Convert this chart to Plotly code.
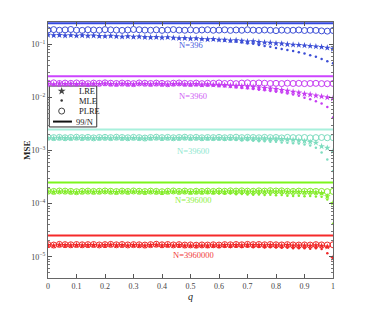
import math
import plotly.graph_objects as go

q = [0.00,0.02,0.04,0.06,0.08,0.10,0.12,0.14,0.16,0.18,
     0.20,0.22,0.24,0.26,0.28,0.30,0.32,0.34,0.36,0.38,
     0.40,0.42,0.44,0.46,0.48,0.50,0.52,0.54,0.56,0.58,
     0.60,0.62,0.64,0.66,0.68,0.70,0.72,0.74,0.76,0.78,
     0.80,0.82,0.84,0.86,0.88,0.90,0.92,0.94,0.96,0.98,1.00]

N_values = [396, 3960, 39600, 396000, 3960000]
bound_99N = [0.25, 0.025, 0.0025, 0.00025, 0.000025]
labels = ["N=396", "N=3960", "N=39600", "N=396000", "N=3960000"]
label_q = [0.50, 0.51, 0.51, 0.51, 0.51]
label_mse = [0.0955, 0.0105, 0.00100, 0.000115, 0.0000110]

legend_names = ["LRE", "MLE", "PLRE", "99/N"]

plre_396 = [0.186,0.189,0.184,0.187,0.190,0.185,0.183,0.188,0.186,0.184,
            0.189,0.187,0.185,0.183,0.186,0.190,0.188,0.185,0.184,0.187,
            0.183,0.186,0.189,0.185,0.184,0.187,0.183,0.186,0.188,0.184,
            0.185,0.187,0.183,0.186,0.184,0.188,0.185,0.183,0.186,0.184,
            0.181,0.185,0.183,0.184,0.186,0.182,0.184,0.183,0.179,0.177,0.182]
lre_396 = [0.150,0.147,0.149,0.146,0.148,0.145,0.147,0.144,0.146,0.143,
           0.142,0.144,0.141,0.139,0.141,0.138,0.140,0.137,0.135,0.137,
           0.134,0.136,0.132,0.130,0.131,0.128,0.129,0.126,0.124,0.125,
           0.122,0.121,0.118,0.119,0.116,0.113,0.114,0.110,0.108,0.107,
           0.104,0.103,0.100,0.098,0.097,0.095,0.093,0.091,0.089,0.086,0.082]
mle_396 = [0.148,0.146,0.148,0.145,0.147,0.144,0.146,0.143,0.145,0.142,
           0.141,0.143,0.140,0.138,0.140,0.137,0.139,0.136,0.134,0.136,
           0.133,0.135,0.131,0.129,0.130,0.127,0.127,0.124,0.122,0.122,
           0.119,0.117,0.113,0.112,0.108,0.104,0.102,0.097,0.093,0.090,
           0.085,0.082,0.078,0.075,0.071,0.067,0.062,0.058,0.053,0.048,0.044]

plre_3960 = [0.0185,0.0188,0.0183,0.0186,0.0184,0.0187,0.0185,0.0182,0.0186,0.0184,
             0.0188,0.0185,0.0183,0.0186,0.0184,0.0182,0.0187,0.0185,0.0183,0.0186,
             0.0184,0.0181,0.0185,0.0187,0.0184,0.0183,0.0186,0.0182,0.0185,0.0184,
             0.0187,0.0183,0.0185,0.0182,0.0186,0.0188,0.0184,0.0187,0.0185,0.0183,
             0.0184,0.0182,0.0185,0.0183,0.0184,0.0182,0.0183,0.0184,0.0182,0.0181,0.0183]
lre_3960 = [0.0180,0.0177,0.0182,0.0179,0.0181,0.0178,0.0180,0.0176,0.0181,0.0179,
            0.0182,0.0178,0.0177,0.0180,0.0178,0.0176,0.0181,0.0179,0.0177,0.0180,
            0.0178,0.0175,0.0179,0.0181,0.0177,0.0176,0.0178,0.0174,0.0176,0.0173,
            0.0172,0.0170,0.0167,0.0165,0.0163,0.0160,0.0158,0.0154,0.0150,0.0147,
            0.0143,0.0138,0.0133,0.0128,0.0123,0.0117,0.0113,0.0108,0.0104,0.0100,0.0096]
mle_3960 = [0.0178,0.0176,0.0180,0.0178,0.0180,0.0177,0.0179,0.0175,0.0180,0.0178,
            0.0180,0.0177,0.0176,0.0179,0.0177,0.0175,0.0180,0.0178,0.0176,0.0178,
            0.0176,0.0173,0.0176,0.0177,0.0173,0.0171,0.0172,0.0167,0.0167,0.0165,
            0.0163,0.0160,0.0157,0.0154,0.0150,0.0147,0.0144,0.0140,0.0136,0.0132,
            0.0128,0.0124,0.0119,0.0114,0.0107,0.0099,0.0092,0.0085,0.0077,0.0066,0.0042]

plre_39600 = [0.00178,0.00175,0.00177,0.00174,0.00176,0.00178,0.00175,0.00177,0.00173,0.00176,
              0.00177,0.00175,0.00178,0.00176,0.00174,0.00177,0.00175,0.00172,0.00176,0.00178,
              0.00175,0.00177,0.00174,0.00176,0.00178,0.00175,0.00177,0.00174,0.00176,0.00175,
              0.00177,0.00174,0.00176,0.00178,0.00175,0.00177,0.00176,0.00174,0.00177,0.00175,
              0.00176,0.00173,0.00177,0.00175,0.00174,0.00176,0.00173,0.00175,0.00176,0.00174,0.00175]
lre_39600 = [0.00172,0.00170,0.00173,0.00171,0.00170,0.00173,0.00171,0.00172,0.00169,0.00171,
             0.00172,0.00170,0.00173,0.00171,0.00169,0.00172,0.00170,0.00168,0.00171,0.00173,
             0.00170,0.00172,0.00169,0.00171,0.00173,0.00170,0.00172,0.00169,0.00171,0.00170,
             0.00171,0.00169,0.00172,0.00170,0.00168,0.00171,0.00169,0.00167,0.00169,0.00166,
             0.00167,0.00164,0.00162,0.00159,0.00155,0.00150,0.00145,0.00140,0.00120,0.00112,0.00097]
mle_39600 = [0.00170,0.00168,0.00171,0.00169,0.00168,0.00171,0.00169,0.00170,0.00167,0.00169,
             0.00170,0.00168,0.00171,0.00169,0.00167,0.00170,0.00168,0.00166,0.00169,0.00171,
             0.00168,0.00170,0.00167,0.00168,0.00170,0.00166,0.00168,0.00164,0.00165,0.00163,
             0.00163,0.00160,0.00161,0.00158,0.00155,0.00156,0.00152,0.00149,0.00150,0.00146,
             0.00146,0.00142,0.00140,0.00137,0.00135,0.00130,0.00124,0.00113,0.00092,0.00068,0.00041]

plre_396000 = [1.72e-4,1.70e-4,1.73e-4,1.72e-4,1.70e-4,1.68e-4,1.71e-4,1.72e-4,1.70e-4,1.71e-4,
               1.73e-4,1.71e-4,1.69e-4,1.72e-4,1.70e-4,1.73e-4,1.71e-4,1.69e-4,1.72e-4,1.70e-4,
               1.68e-4,1.71e-4,1.73e-4,1.70e-4,1.72e-4,1.69e-4,1.71e-4,1.70e-4,1.72e-4,1.70e-4,
               1.73e-4,1.71e-4,1.74e-4,1.72e-4,1.74e-4,1.72e-4,1.71e-4,1.74e-4,1.72e-4,1.75e-4,
               1.73e-4,1.74e-4,1.71e-4,1.70e-4,1.72e-4,1.70e-4,1.71e-4,1.70e-4,1.70e-4,1.68e-4,1.70e-4]
lre_396000 = [1.68e-4,1.66e-4,1.69e-4,1.68e-4,1.66e-4,1.64e-4,1.67e-4,1.68e-4,1.66e-4,1.67e-4,
              1.69e-4,1.67e-4,1.65e-4,1.68e-4,1.66e-4,1.69e-4,1.67e-4,1.65e-4,1.68e-4,1.66e-4,
              1.64e-4,1.67e-4,1.69e-4,1.66e-4,1.68e-4,1.65e-4,1.67e-4,1.66e-4,1.68e-4,1.66e-4,
              1.69e-4,1.67e-4,1.70e-4,1.68e-4,1.70e-4,1.68e-4,1.67e-4,1.70e-4,1.68e-4,1.71e-4,
              1.69e-4,1.70e-4,1.67e-4,1.66e-4,1.67e-4,1.65e-4,1.65e-4,1.63e-4,1.58e-4,1.37e-4,1.03e-4]
mle_396000 = [1.66e-4,1.64e-4,1.67e-4,1.66e-4,1.64e-4,1.62e-4,1.65e-4,1.66e-4,1.64e-4,1.65e-4,
              1.67e-4,1.65e-4,1.63e-4,1.66e-4,1.64e-4,1.67e-4,1.65e-4,1.63e-4,1.66e-4,1.64e-4,
              1.62e-4,1.64e-4,1.66e-4,1.63e-4,1.64e-4,1.61e-4,1.62e-4,1.60e-4,1.61e-4,1.58e-4,
              1.56e-4,1.53e-4,1.55e-4,1.51e-4,1.52e-4,1.49e-4,1.47e-4,1.49e-4,1.45e-4,1.47e-4,
              1.44e-4,1.45e-4,1.41e-4,1.40e-4,1.41e-4,1.38e-4,1.39e-4,1.37e-4,1.35e-4,1.20e-4,4.2e-5]

plre_3960000 = [1.69e-5,1.66e-5,1.71e-5,1.69e-5,1.68e-5,1.70e-5,1.68e-5,1.69e-5,1.70e-5,1.67e-5,
                1.69e-5,1.71e-5,1.68e-5,1.70e-5,1.67e-5,1.69e-5,1.68e-5,1.66e-5,1.69e-5,1.72e-5,
                1.68e-5,1.70e-5,1.67e-5,1.69e-5,1.66e-5,1.67e-5,1.65e-5,1.67e-5,1.66e-5,1.68e-5,
                1.66e-5,1.69e-5,1.68e-5,1.70e-5,1.68e-5,1.71e-5,1.69e-5,1.70e-5,1.68e-5,1.70e-5,
                1.68e-5,1.67e-5,1.69e-5,1.67e-5,1.66e-5,1.67e-5,1.66e-5,1.69e-5,1.67e-5,1.66e-5,1.68e-5]
lre_3960000 = [1.65e-5,1.62e-5,1.67e-5,1.65e-5,1.64e-5,1.66e-5,1.64e-5,1.65e-5,1.66e-5,1.63e-5,
               1.65e-5,1.67e-5,1.64e-5,1.66e-5,1.63e-5,1.65e-5,1.64e-5,1.62e-5,1.65e-5,1.68e-5,
               1.64e-5,1.66e-5,1.63e-5,1.65e-5,1.62e-5,1.63e-5,1.61e-5,1.63e-5,1.62e-5,1.64e-5,
               1.62e-5,1.65e-5,1.64e-5,1.66e-5,1.64e-5,1.67e-5,1.65e-5,1.66e-5,1.64e-5,1.66e-5,
               1.64e-5,1.63e-5,1.65e-5,1.63e-5,1.62e-5,1.63e-5,1.61e-5,1.64e-5,1.61e-5,1.55e-5,9.5e-6]
mle_3960000 = [1.63e-5,1.60e-5,1.65e-5,1.63e-5,1.62e-5,1.64e-5,1.62e-5,1.63e-5,1.64e-5,1.61e-5,
               1.63e-5,1.65e-5,1.62e-5,1.64e-5,1.61e-5,1.63e-5,1.62e-5,1.60e-5,1.62e-5,1.64e-5,
               1.60e-5,1.62e-5,1.59e-5,1.60e-5,1.57e-5,1.58e-5,1.55e-5,1.57e-5,1.55e-5,1.56e-5,
               1.53e-5,1.55e-5,1.53e-5,1.55e-5,1.52e-5,1.54e-5,1.51e-5,1.53e-5,1.50e-5,1.51e-5,
               1.49e-5,1.47e-5,1.48e-5,1.45e-5,1.44e-5,1.45e-5,1.42e-5,1.44e-5,1.40e-5,1.17e-5,3.3e-6]

plre_all = [plre_396, plre_3960, plre_39600, plre_396000, plre_3960000]
lre_all = [lre_396, lre_3960, lre_39600, lre_396000, lre_3960000]
mle_all = [mle_396, mle_3960, mle_39600, mle_396000, mle_3960000]

marker_colors = ["#3d4fd6", "#c63cf2", "#7ddcbf", "#84ec2a", "#f02828"]
line_colors = ["#3347e0", "#cc44ff", "#a8f0dc", "#7cf51c", "#f52a2a"]
text_colors = ["#4a5ce0", "#d060f5", "#8fe8d0", "#8ef040", "#f03a3a"]

SERIF = "Liberation Serif, Times New Roman, serif"

fig = go.Figure()

for i in range(5):
    fig.add_trace(go.Scatter(
        x=[q[0], q[-1]], y=[bound_99N[i], bound_99N[i]], mode="lines",
        line=dict(color=line_colors[i], width=2), showlegend=False, hoverinfo="skip"))
    fig.add_trace(go.Scatter(
        x=q, y=plre_all[i], mode="markers", showlegend=False,
        marker=dict(symbol="circle-open", size=6, color=marker_colors[i], line=dict(width=1))))
    fig.add_trace(go.Scatter(
        x=q, y=lre_all[i], mode="markers", showlegend=False,
        marker=dict(symbol="star", size=5, color=marker_colors[i], line=dict(width=0))))
    fig.add_trace(go.Scatter(
        x=q, y=mle_all[i], mode="markers", showlegend=False,
        marker=dict(symbol="circle", size=2.5, color=marker_colors[i], line=dict(width=0))))

# hand-drawn legend (Plotly's legend rows are too tall), on an overlay axis 0..1
leg_row_y = [0.730, 0.693, 0.652, 0.611]
key_x = 0.048
fig.add_trace(go.Scatter(x=[key_x], y=[leg_row_y[0]], xaxis="x2", yaxis="y2", mode="markers",
                         showlegend=False, hoverinfo="skip",
                         marker=dict(symbol="star", size=6, color="#444444", line=dict(width=0))))
fig.add_trace(go.Scatter(x=[key_x], y=[leg_row_y[1]], xaxis="x2", yaxis="y2", mode="markers",
                         showlegend=False, hoverinfo="skip",
                         marker=dict(symbol="circle", size=2.5, color="#333333")))
fig.add_trace(go.Scatter(x=[key_x], y=[leg_row_y[2]], xaxis="x2", yaxis="y2", mode="markers",
                         showlegend=False, hoverinfo="skip",
                         marker=dict(symbol="circle-open", size=6, color="#444444", line=dict(width=1))))
fig.add_trace(go.Scatter(x=[0.0175, 0.084], y=[leg_row_y[3], leg_row_y[3]], xaxis="x2", yaxis="y2",
                         mode="lines", showlegend=False, hoverinfo="skip",
                         line=dict(color="#111111", width=2)))
text_x = [0.101, 0.101, 0.101, 0.091]
for j in range(4):
    fig.add_annotation(x=text_x[j], y=leg_row_y[j], xref="x2", yref="y2", text=legend_names[j],
                       showarrow=False, xanchor="left", yanchor="middle",
                       font=dict(family=SERIF, size=8.5, color="#222222"))
fig.add_shape(type="rect", xref="x2", yref="y2", x0=0.0046, x1=0.171, y0=0.590, y1=0.750,
              line=dict(color="#333333", width=1), fillcolor="white", layer="below")

for i in range(5):
    fig.add_annotation(x=label_q[i], y=math.log10(label_mse[i]), text=labels[i],
                       showarrow=False, font=dict(family=SERIF, size=8.5, color=text_colors[i]),
                       xanchor="center", yanchor="middle")

# y-axis title placed as an annotation for precise positioning
fig.add_annotation(x=-0.074, y=0.5, xref="paper", yref="paper", text="<b>MSE</b>",
                   textangle=-90, showarrow=False, xanchor="center", yanchor="middle",
                   font=dict(family=SERIF, size=9, color="#222222"))

decades = [1e-5, 1e-4, 1e-3, 1e-2, 1e-1]
decade_text = ["10<sup>−5</sup>", "10<sup>−4</sup>", "10<sup>−3</sup>", "10<sup>−2</sup>", "10<sup>−1</sup>"]
minor_vals = [m * d for d in [1e-6, 1e-5, 1e-4, 1e-3, 1e-2, 1e-1] for m in range(2, 10)]

fig.update_yaxes(
    type="log", range=[-5.40, -0.58], automargin=False,
    tickvals=decades, ticktext=decade_text,
    ticks="inside", ticklen=4, tickcolor="#555555", tickwidth=1,
    minor=dict(tickvals=minor_vals, ticks="inside", ticklen=2, tickcolor="#777777"),
    showline=True, linecolor="#666666", linewidth=1.2, mirror="allticks",
    showgrid=False, zeroline=False,
    tickfont=dict(family=SERIF, size=8, color="#444444"),
)
fig.update_xaxes(
    range=[0, 1], automargin=False,
    tickvals=[0, 0.1, 0.2, 0.3, 0.4, 0.5, 0.6, 0.7, 0.8, 0.9, 1.0],
    ticktext=["0", "0.1", "0.2", "0.3", "0.4", "0.5", "0.6", "0.7", "0.8", "0.9", "1"],
    ticks="inside", ticklen=4, tickcolor="#555555",
    showline=True, linecolor="#666666", linewidth=1.2, mirror="allticks",
    showgrid=False, zeroline=False,
    tickfont=dict(family=SERIF, size=8, color="#444444"),
    title=dict(text="<i>q</i>", font=dict(family=SERIF, size=10, color="#222222"), standoff=3),
)

fig.update_layout(
    width=352, height=297,
    margin=dict(l=40, r=27, t=14, b=27),
    plot_bgcolor="white", paper_bgcolor="white",
    showlegend=False,
    xaxis2=dict(overlaying="x", range=[0, 1], visible=False, anchor="y2", automargin=False),
    yaxis2=dict(overlaying="y", range=[0, 1], visible=False, anchor="x2", automargin=False),
)

fig.write_html("out.html")
